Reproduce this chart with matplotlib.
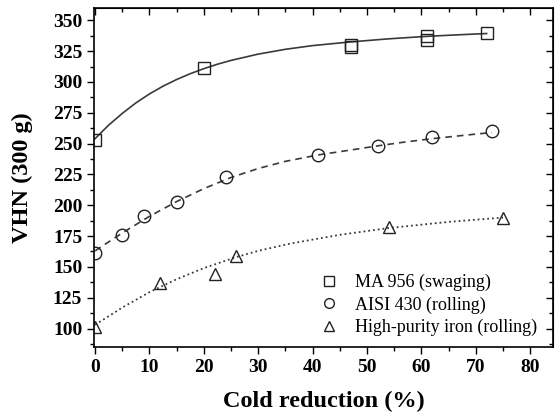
import matplotlib
matplotlib.use("Agg")
import matplotlib.pyplot as plt
from matplotlib.ticker import MultipleLocator

# Measured data
ma_x = [0, 20, 47, 47, 61, 61, 72]
ma_y = [253, 311, 330, 328, 337, 334, 340]
aisi_x = [0, 5, 9, 15, 24, 41, 52, 62, 73]
aisi_y = [161, 176, 191, 203, 223, 241, 248, 255, 260]
iron_x = [0, 12, 22, 26, 54, 75]
iron_y = [101, 137, 144, 159, 182, 190]

# Fitted curves
ma_fit_x = [0, 2.5, 5, 7.5, 10, 12.5, 15, 17.5, 20, 22.5, 25, 30, 35, 40, 47, 54, 61, 67, 72]
ma_fit_y = [254, 265, 274.5, 283, 290.3, 296.6, 302, 306.7, 310.8, 314.4, 317.5, 322.6,
            326.5, 329.5, 332.5, 335, 337, 338.3, 339.3]
aisi_fit_x = [0, 5, 10, 15, 20, 25, 30, 35, 41, 47, 52, 57, 62, 68, 73]
aisi_fit_y = [163, 177.5, 191, 203, 213.5, 222.5, 229.8, 235.6, 240.8, 244.8, 248.2,
              251.3, 254, 256.8, 259]
iron_fit_x = [0, 5, 10, 15, 20, 26, 30, 36, 45, 54, 65, 75]
iron_fit_y = [103, 117, 129.5, 140, 149, 158, 163, 169, 176, 181.5, 186.5, 190]

labels = ["MA 956 (swaging)", "AISI 430 (rolling)", "High-purity iron (rolling)"]

plt.rcParams['font.family'] = ['Liberation Serif', 'DejaVu Serif']

fig = plt.figure(figsize=(5.55, 4.17), dpi=100)
ax = fig.add_axes([94/555, 1-347/417, (553-94)/555, (347-8)/417])

lc = '#3a3a3a'
ax.plot(ma_fit_x, ma_fit_y, '-', color=lc, lw=1.2)
ax.plot(aisi_fit_x, aisi_fit_y, '--', color=lc, lw=1.2, dashes=(4, 3))
ax.plot(iron_fit_x, iron_fit_y, ':', color=lc, lw=1.3)

ms = 8
h1, = ax.plot(ma_x, ma_y, 's', mfc='none', mec='#222', mew=1.0, ms=ms, ls='none')
h2, = ax.plot(aisi_x, aisi_y, 'o', mfc='none', mec='#222', mew=1.0, ms=ms+1, ls='none')
h3, = ax.plot(iron_x, iron_y, '^', mfc='none', mec='#222', mew=1.0, ms=ms+1, ls='none')

ax.set_xlim(-0.2, 84.2)
ax.set_ylim(85, 360)
ax.xaxis.set_major_locator(MultipleLocator(10))
ax.xaxis.set_minor_locator(MultipleLocator(5))
ax.yaxis.set_major_locator(MultipleLocator(25))
ax.yaxis.set_minor_locator(MultipleLocator(12.5))
ax.tick_params(which='major', direction='out', length=5, width=1.0, labelsize=14)
ax.tick_params(which='minor', direction='out', length=3, width=1.0)
for lab in ax.get_xticklabels() + ax.get_yticklabels():
    lab.set_fontweight('bold')

top = ax.secondary_xaxis('top')
top.xaxis.set_major_locator(MultipleLocator(10))
top.xaxis.set_minor_locator(MultipleLocator(5))
top.tick_params(which='major', direction='in', length=5, width=1.0, labeltop=False)
top.tick_params(which='minor', direction='in', length=3, width=1.0)
right = ax.secondary_yaxis('right')
right.yaxis.set_major_locator(MultipleLocator(25))
right.yaxis.set_minor_locator(MultipleLocator(12.5))
right.tick_params(which='major', direction='in', length=5, width=1.0, labelright=False)
right.tick_params(which='minor', direction='in', length=3, width=1.0)

for sp in ax.spines.values():
    sp.set_linewidth(1.2)

ax.set_xlabel("Cold reduction (%)", fontsize=17.5, fontweight='bold', labelpad=11)
ax.set_ylabel("VHN (300 g)", fontsize=17.5, fontweight='bold', labelpad=14)

leg = ax.legend([h1, h2, h3], labels, loc='lower right', bbox_to_anchor=(0.99, 0.0),
                frameon=False, fontsize=13, handlelength=1.2, handletextpad=0.85,
                labelspacing=0.28, borderaxespad=0.2)
for lh in leg.legend_handles:
    lh.set_markersize(7)

fig.savefig("out.png", dpi=100)
